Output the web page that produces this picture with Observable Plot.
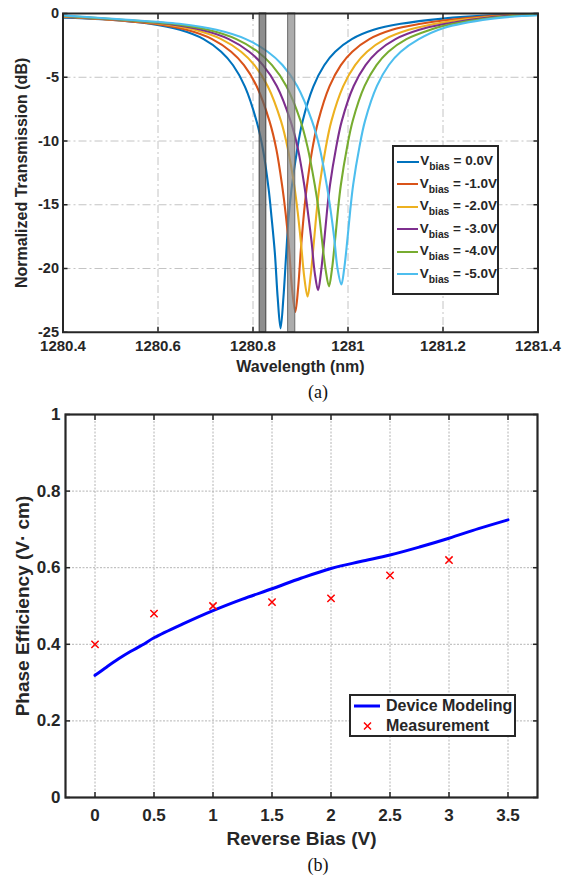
<!DOCTYPE html>
<html><head><meta charset="utf-8">
<script src="https://cdn.jsdelivr.net/npm/d3@7"></script>
<script src="https://cdn.jsdelivr.net/npm/@observablehq/plot@0.6"></script>
<style>
body{margin:0;background:#fff;font-family:"Liberation Sans",Arial,sans-serif;}
#wrap{position:relative;width:570px;height:876px;overflow:hidden;background:#fff}
.cap{position:absolute;left:300px;width:36px;text-align:center;font-family:"Liberation Serif","Times New Roman",serif;font-size:18px;line-height:22px;color:#111}
#legA{position:absolute;left:392px;top:145px;width:103px;height:143px;border:2px solid #262626;background:#fff;padding-top:3.25px;box-sizing:content-box}
#legA .row{height:22.5px;display:flex;align-items:center;color:#262626}
#legA .ln{display:inline-block;width:22px;height:2px;margin-left:2.7px;margin-right:1.5px}
#legA .vb{font-size:13.5px;font-weight:bold;white-space:nowrap;line-height:14px}
#legA .sb{font-size:10.3px;position:relative;top:5px}
#legB{position:absolute;left:349px;top:694px;width:163px;height:39px;border:2px solid #262626;background:#fff}
#legB .row{height:20px;display:flex;align-items:center;font-size:16px;font-weight:bold;color:#262626;white-space:nowrap}
#legB .slot{display:inline-block;width:26px;height:12px;margin-left:3px;margin-right:6px;position:relative}
</style></head><body>
<div id="wrap">
  <div id="pa" style="position:absolute;left:0;top:0"></div>
  <div id="pb" style="position:absolute;left:0;top:400px"></div>
  <div class="cap" style="top:381px">(a)</div>
  <div class="cap" style="top:854px">(b)</div>
  <div id="legA"></div>
  <div id="legB"></div>
</div>
<script>
// ---------- Panel (a) data ----------
const biasLabels = ["0.0V", "-1.0V", "-2.0V", "-3.0V", "-4.0V", "-5.0V"];
const v0 = [[1280.4,-0.33],[1280.483,-0.455],[1280.583,-0.81],[1280.646,-1.28],[1280.696,-2.01],[1280.733,-3.0],[1280.758,-4.06],[1280.783,-5.73],[1280.808,-8.51],[1280.821,-10.67],[1280.833,-13.8],[1280.839,-15.97],[1280.846,-18.78],[1280.852,-22.31],[1280.858,-24.7],[1280.864,-22.31],[1280.87,-18.78],[1280.875,-15.97],[1280.881,-13.8],[1280.893,-10.67],[1280.904,-8.51],[1280.927,-5.73],[1280.95,-4.06],[1280.973,-3.0],[1281.008,-2.01],[1281.054,-1.28],[1281.111,-0.81],[1281.2,-0.4],[1281.3,-0.15],[1281.4,-0.03]];
const v1 = [[1280.4,-0.28],[1280.484,-0.455],[1280.592,-0.81],[1280.66,-1.28],[1280.714,-2.01],[1280.754,-3.0],[1280.781,-4.05],[1280.808,-5.72],[1280.835,-8.48],[1280.849,-10.62],[1280.862,-13.68],[1280.869,-15.77],[1280.876,-18.41],[1280.882,-21.52],[1280.889,-23.4],[1280.895,-21.52],[1280.901,-18.41],[1280.907,-15.77],[1280.913,-13.68],[1280.925,-10.62],[1280.937,-8.48],[1280.961,-5.72],[1280.985,-4.05],[1281.009,-3.0],[1281.045,-2.01],[1281.093,-1.28],[1281.153,-0.81],[1281.2,-0.55],[1281.3,-0.2],[1281.4,-0.05]];
const v2 = [[1280.4,-0.24],[1280.495,-0.455],[1280.607,-0.81],[1280.677,-1.28],[1280.733,-2.01],[1280.775,-3.0],[1280.803,-4.05],[1280.831,-5.7],[1280.859,-8.44],[1280.873,-10.55],[1280.887,-13.54],[1280.894,-15.54],[1280.901,-17.99],[1280.908,-20.7],[1280.915,-22.2],[1280.921,-20.7],[1280.928,-17.99],[1280.934,-15.54],[1280.94,-13.54],[1280.953,-10.55],[1280.965,-8.44],[1280.99,-5.7],[1281.015,-4.05],[1281.04,-3.0],[1281.078,-2.01],[1281.128,-1.28],[1281.2,-0.7],[1281.3,-0.25],[1281.4,-0.07]];
const v3 = [[1280.4,-0.2],[1280.502,-0.455],[1280.618,-0.81],[1280.691,-1.28],[1280.749,-2.01],[1280.792,-3.0],[1280.821,-4.05],[1280.85,-5.69],[1280.879,-8.42],[1280.894,-10.52],[1280.908,-13.47],[1280.915,-15.43],[1280.923,-17.8],[1280.93,-20.34],[1280.937,-21.7],[1280.943,-20.34],[1280.95,-17.8],[1280.956,-15.43],[1280.962,-13.47],[1280.975,-10.52],[1280.987,-8.42],[1281.012,-5.69],[1281.037,-4.05],[1281.062,-3.0],[1281.1,-2.01],[1281.15,-1.28],[1281.2,-0.85],[1281.3,-0.3],[1281.4,-0.09]];
const v4 = [[1280.4,-0.18],[1280.51,-0.455],[1280.63,-0.81],[1280.705,-1.28],[1280.765,-2.01],[1280.81,-3.0],[1280.84,-4.05],[1280.87,-5.68],[1280.9,-8.41],[1280.915,-10.5],[1280.93,-13.43],[1280.938,-15.36],[1280.945,-17.68],[1280.953,-20.13],[1280.96,-21.4],[1280.966,-20.13],[1280.973,-17.68],[1280.979,-15.36],[1280.985,-13.43],[1280.998,-10.5],[1281.01,-8.41],[1281.035,-5.68],[1281.06,-4.05],[1281.085,-3.0],[1281.123,-2.01],[1281.173,-1.28],[1281.2,-0.98],[1281.3,-0.35],[1281.4,-0.11]];
const v5 = [[1280.4,-0.15],[1280.521,-0.455],[1280.645,-0.81],[1280.723,-1.28],[1280.785,-2.01],[1280.831,-3.0],[1280.862,-4.04],[1280.893,-5.68],[1280.924,-8.4],[1280.94,-10.48],[1280.955,-13.4],[1280.963,-15.33],[1280.971,-17.61],[1280.978,-20.01],[1280.986,-21.25],[1280.992,-20.01],[1280.999,-17.61],[1281.005,-15.33],[1281.011,-13.4],[1281.024,-10.48],[1281.036,-8.4],[1281.061,-5.68],[1281.086,-4.04],[1281.111,-3.0],[1281.149,-2.01],[1281.2,-1.15],[1281.3,-0.42],[1281.4,-0.14]];
const bandStart = [1280.814, 1280.874];
const bandEnd = [1280.828, 1280.889];
const xTicksA = [1280.4, 1280.6, 1280.8, 1281, 1281.2, 1281.4];
const xLabelsA = ["1280.4", "1280.6", "1280.8", "1281", "1281.2", "1281.4"];
const yTicksA = [0, -5, -10, -15, -20, -25];
const yLabelsA = ["0", "-5", "-10", "-15", "-20", "-25"];

// ---------- Panel (b) data ----------
const biasModel = [0, 0.1, 0.2, 0.3, 0.4, 0.5, 0.75, 1, 1.25, 1.5, 1.75, 2, 2.25, 2.5, 2.75, 3, 3.25, 3.5];
const effModel = [0.319, 0.341, 0.362, 0.381, 0.398, 0.417, 0.454, 0.488, 0.518, 0.545, 0.573, 0.598, 0.616, 0.633, 0.654, 0.677, 0.702, 0.725];
const biasMeas = [0, 0.5, 1, 1.5, 2, 2.5, 3];
const effMeas = [0.40, 0.48, 0.50, 0.51, 0.52, 0.58, 0.62];
const xTicksB = [0, 0.5, 1, 1.5, 2, 2.5, 3, 3.5];
const xLabelsB = ["0", "0.5", "1", "1.5", "2", "2.5", "3", "3.5"];
const yTicksB = [0, 0.2, 0.4, 0.6, 0.8, 1];
const yLabelsB = ["0", "0.2", "0.4", "0.6", "0.8", "1"];

const seriesColors = ["#0072BD", "#D95319", "#EDB120", "#7E2F8E", "#77AC30", "#4DBEEE"];
const ink = "#262626";
const font = "Liberation Sans, Arial, sans-serif";

const curves = [v0, v1, v2, v3, v4, v5];
const rowsA = [];
curves.forEach((c, i) => c.forEach(([w, t]) => rowsA.push({w, t, k: biasLabels[i]})));
const bands = bandStart.map((s, i) => ({s, e: bandEnd[i], i}));

const gridStyleA = {stroke: "#c4c4c4", strokeOpacity: 1, strokeWidth: 1, strokeDasharray: "8,3,2,3"};
const pa = Plot.plot({
  width: 570, height: 380,
  marginTop: 13, marginRight: 32.5, marginBottom: 48.25, marginLeft: 62.5,
  style: {fontFamily: font, fontSize: "15px", fontWeight: "bold", color: ink, background: "#fff"},
  x: {domain: [1280.4, 1281.4]},
  y: {domain: [-25, 0]},
  color: {domain: biasLabels, range: seriesColors},
  marks: [
    Plot.gridX(xTicksA.slice(1, -1), gridStyleA),
    Plot.gridY(yTicksA.slice(1, -1), gridStyleA),
    Plot.line(rowsA, {x: "w", y: "t", z: "k", stroke: "k", strokeWidth: 2.1, curve: "catmull-rom"}),
    Plot.rect(bands, {x1: "s", x2: "e", fill: d => d.i === 0 ? "#626262" : "#8c8c8c", fillOpacity: 0.72,
      stroke: d => d.i === 0 ? "#404040" : "#6a6a6a", strokeWidth: 1}),
    Plot.axisX(xTicksA, {anchor: "bottom", tickSize: -5, tickFormat: () => "", stroke: ink, strokeWidth: 1.5, label: null}),
    Plot.axisX(xTicksA, {anchor: "top", tickSize: -5, tickFormat: () => "", stroke: ink, strokeWidth: 1.5, label: null}),
    Plot.axisY(yTicksA, {anchor: "left", tickSize: -5, tickFormat: () => "", stroke: ink, strokeWidth: 1.5, label: null}),
    Plot.axisY(yTicksA, {anchor: "right", tickSize: -5, tickFormat: () => "", stroke: ink, strokeWidth: 1.5, label: null}),
    Plot.axisX(xTicksA, {anchor: "bottom", tickSize: 0, tickPadding: 8, fontSize: 15, fontWeight: "bold", fill: ink,
      tickFormat: d => xLabelsA[xTicksA.indexOf(d)], label: null}),
    Plot.axisY(yTicksA, {anchor: "left", tickSize: 0, tickPadding: 4, fontSize: 14.5, fontWeight: "bold", fill: ink,
      tickFormat: d => yLabelsA[yTicksA.indexOf(d)], label: null}),
    Plot.frame({stroke: ink, strokeWidth: 2}),
    Plot.text(["Wavelength (nm)"], {text: d => d, frameAnchor: "bottom", dy: 35, textAnchor: "middle", lineAnchor: "middle", fontSize: 16, fontWeight: "bold", fill: ink}),
    Plot.text(["Normalized Transmission (dB)"], {text: d => d, frameAnchor: "left", dx: -41, rotate: -90, textAnchor: "middle", lineAnchor: "middle", fontSize: 16, fontWeight: "bold", fill: ink})
  ]
});
document.getElementById("pa").appendChild(pa);

const rowsModel = biasModel.map((b, i) => ({b, e: effModel[i]}));
const rowsMeas = biasMeas.map((b, i) => ({b, e: effMeas[i]}));
const gridStyleB = {stroke: "#b4b4b4", strokeOpacity: 1, strokeWidth: 1, strokeDasharray: "2,1.5"};
const pb = Plot.plot({
  width: 570, height: 460,
  marginTop: 14, marginRight: 33, marginBottom: 63, marginLeft: 65,
  style: {fontFamily: font, fontSize: "17px", fontWeight: "bold", color: ink, background: "transparent"},
  x: {domain: [-0.25, 3.75]},
  y: {domain: [0, 1]},
  marks: [
    Plot.gridX(xTicksB, gridStyleB),
    Plot.gridY(yTicksB.slice(1, -1), gridStyleB),
    Plot.line(rowsModel, {x: "b", y: "e", stroke: "#0000FF", strokeWidth: 3, curve: "catmull-rom"}),
    Plot.dot(rowsMeas, {x: "b", y: "e", symbol: "times", stroke: "#FF0000", r: 3.4, strokeWidth: 1.5}),
    Plot.axisX(xTicksB, {anchor: "bottom", tickSize: -5, tickFormat: () => "", stroke: ink, strokeWidth: 1.5, label: null}),
    Plot.axisX(xTicksB, {anchor: "top", tickSize: -5, tickFormat: () => "", stroke: ink, strokeWidth: 1.5, label: null}),
    Plot.axisY(yTicksB, {anchor: "left", tickSize: -5, tickFormat: () => "", stroke: ink, strokeWidth: 1.5, label: null}),
    Plot.axisY(yTicksB, {anchor: "right", tickSize: -5, tickFormat: () => "", stroke: ink, strokeWidth: 1.5, label: null}),
    Plot.axisX(xTicksB, {anchor: "bottom", tickSize: 0, tickPadding: 11, fontSize: 17, fontWeight: "bold", fill: ink,
      tickFormat: d => xLabelsB[xTicksB.indexOf(d)], label: null}),
    Plot.axisY(yTicksB, {anchor: "left", tickSize: 0, tickPadding: 5, fontSize: 17, fontWeight: "bold", fill: ink,
      tickFormat: d => yLabelsB[yTicksB.indexOf(d)], label: null}),
    Plot.frame({stroke: ink, strokeWidth: 2.2}),
    Plot.text(["Reverse Bias (V)"], {text: d => d, frameAnchor: "bottom", dy: 41, textAnchor: "middle", lineAnchor: "middle", fontSize: 19, fontWeight: "bold", fill: ink}),
    Plot.text(["Phase Efficiency (V· cm)"], {text: d => d, frameAnchor: "left", dx: -42.5, rotate: -90, textAnchor: "middle", lineAnchor: "middle", fontSize: 19, fontWeight: "bold", fill: ink})
  ]
});
document.getElementById("pb").appendChild(pb);

// ---------- Legends ----------
const legA = document.getElementById("legA");
biasLabels.forEach((lab, i) => {
  const row = document.createElement("div");
  row.className = "row";
  row.innerHTML = `<span class="ln" style="background:${seriesColors[i]}"></span><span class="vb">V<span class="sb">bias</span> = ${lab}</span>`;
  legA.appendChild(row);
});
const legB = document.getElementById("legB");
legB.innerHTML =
  `<div class="row"><span class="slot"><svg width="26" height="12" style="position:absolute;left:0;top:0"><line x1="0" y1="6" x2="26" y2="6" stroke="#0000FF" stroke-width="3"/></svg></span>Device Modeling</div>` +
  `<div class="row"><span class="slot"><svg width="26" height="12" style="position:absolute;left:0;top:0"><path d="M10,2.5L17,9.5M17,2.5L10,9.5" stroke="#FF0000" stroke-width="1.5" fill="none"/></svg></span>Measurement</div>`;
</script>
</body></html>
